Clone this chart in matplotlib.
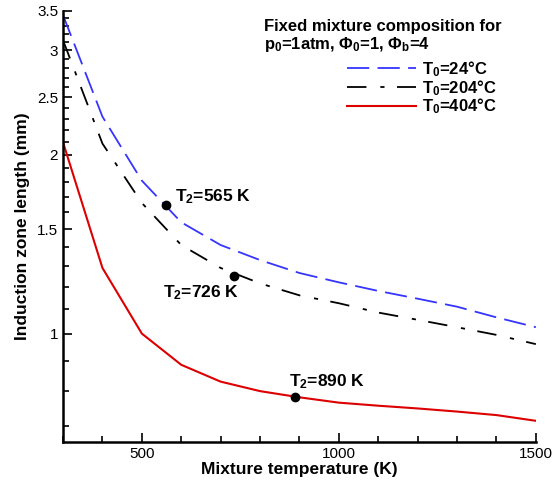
import numpy as np
import matplotlib
matplotlib.use('Agg')
import matplotlib.pyplot as plt
from matplotlib.ticker import FixedLocator, FixedFormatter, NullFormatter

plt.rcParams['font.family'] = ['Liberation Sans', 'DejaVu Sans']
plt.rcParams['mathtext.fontset'] = 'custom'
plt.rcParams['mathtext.rm'] = 'Liberation Sans:bold'
plt.rcParams['mathtext.bf'] = 'Liberation Sans:bold'
plt.rcParams['mathtext.it'] = 'Liberation Sans:bold'
plt.rcParams['lines.scale_dashes'] = False

# mixture temperature (K)
temps = [300, 400, 500, 600, 700, 800, 900, 1000, 1100, 1200, 1300, 1400, 1500]
# induction zone length (mm)
len_24 = [3.44, 2.32, 1.81, 1.54, 1.41, 1.33, 1.265, 1.22, 1.18, 1.145, 1.11, 1.065, 1.025]
len_204 = [3.12, 2.09, 1.66, 1.41, 1.29, 1.215, 1.16, 1.125, 1.085, 1.055, 1.025, 0.995, 0.96]
len_404 = [2.10, 1.29, 1.00, 0.886, 0.83, 0.80, 0.781, 0.765, 0.756, 0.748, 0.739, 0.729, 0.713]

labels = ['T$_0$=24°C', 'T$_0$=204°C', 'T$_0$=404°C']

# T2 marked points
mark_x = [561, 733, 888]
mark_y = [1.645, 1.252, 0.782]
mark_txt = ['T$_2$=565 K', 'T$_2$=726 K', 'T$_2$=890 K']

fig = plt.figure(figsize=(5.53, 4.84), dpi=100)
ax = fig.add_axes([0.114, 0.087, 0.855, 0.891])

l1, = ax.plot(temps, len_24, color='#3535ff', lw=1.3, dashes=(16, 6))
l2, = ax.plot(temps, len_204, color='black', lw=1.3, dashes=(14, 10, 3, 9))
l3, = ax.plot(temps, len_404, color='#dd0000', lw=1.5)

ax.plot(mark_x, mark_y, 'o', color='black', ms=6, zorder=5)
ax.annotate(mark_txt[0], (mark_x[0], mark_y[0]), xytext=(6.5, 6.5), textcoords='offset points',
            ha='left', va='center', fontsize=12.5, fontweight='bold')
ax.annotate(mark_txt[1], (mark_x[1], mark_y[1]), xytext=(-23.4, -12.5), textcoords='offset points',
            ha='center', va='center', fontsize=12.5, fontweight='bold')
ax.annotate(mark_txt[2], (mark_x[2], mark_y[2]), xytext=(23, 10.8), textcoords='offset points',
            ha='center', va='center', fontsize=12.5, fontweight='bold')

ax.set_yscale('log')
ax.set_xlim(300, 1500)
ax.set_ylim(0.657, 3.5)

ymaj = [1, 1.5, 2, 2.5, 3, 3.5]
ymin = [v / 10 for v in range(7, 35) if v % 5 != 0]
ax.yaxis.set_major_locator(FixedLocator(ymaj))
ax.yaxis.set_major_formatter(FixedFormatter(['1', '1.5', '2', '2.5', '3', '3.5']))
ax.yaxis.set_minor_locator(FixedLocator(ymin))
ax.yaxis.set_minor_formatter(NullFormatter())
ax.set_xticks([500, 1000, 1500])
ax.set_xticks(range(300, 1501, 100), minor=True)

ax.tick_params(which='both', direction='in', width=1.2, labelsize=11)
ax.tick_params(which='major', length=6.5)
ax.tick_params(which='minor', length=4.3)
for s in ['top', 'right']:
    ax.spines[s].set_visible(False)
for s in ['left', 'bottom']:
    ax.spines[s].set_linewidth(1.8)

ax.set_xlabel('Mixture temperature (K)', fontsize=12.5, fontweight='bold', labelpad=1)
ax.set_ylabel('Induction zone length (mm)', fontsize=12.5, fontweight='bold', labelpad=5)

ax.text(0.425, 0.981, 'Fixed mixture composition for\np$_0$=1atm, $\\Phi_0$=1, $\\Phi_b$=4',
        transform=ax.transAxes, fontsize=12, fontweight='bold', ha='left', va='top',
        linespacing=1.05)
ax.legend([l1, l2, l3], labels, loc='upper left', bbox_to_anchor=(0.601, 0.888),
          frameon=False, prop={'size': 12, 'weight': 'bold'}, handlelength=4.1,
          handletextpad=0.4, labelspacing=-0.05, borderpad=0, borderaxespad=0)

fig.savefig('out.png', dpi=100)
